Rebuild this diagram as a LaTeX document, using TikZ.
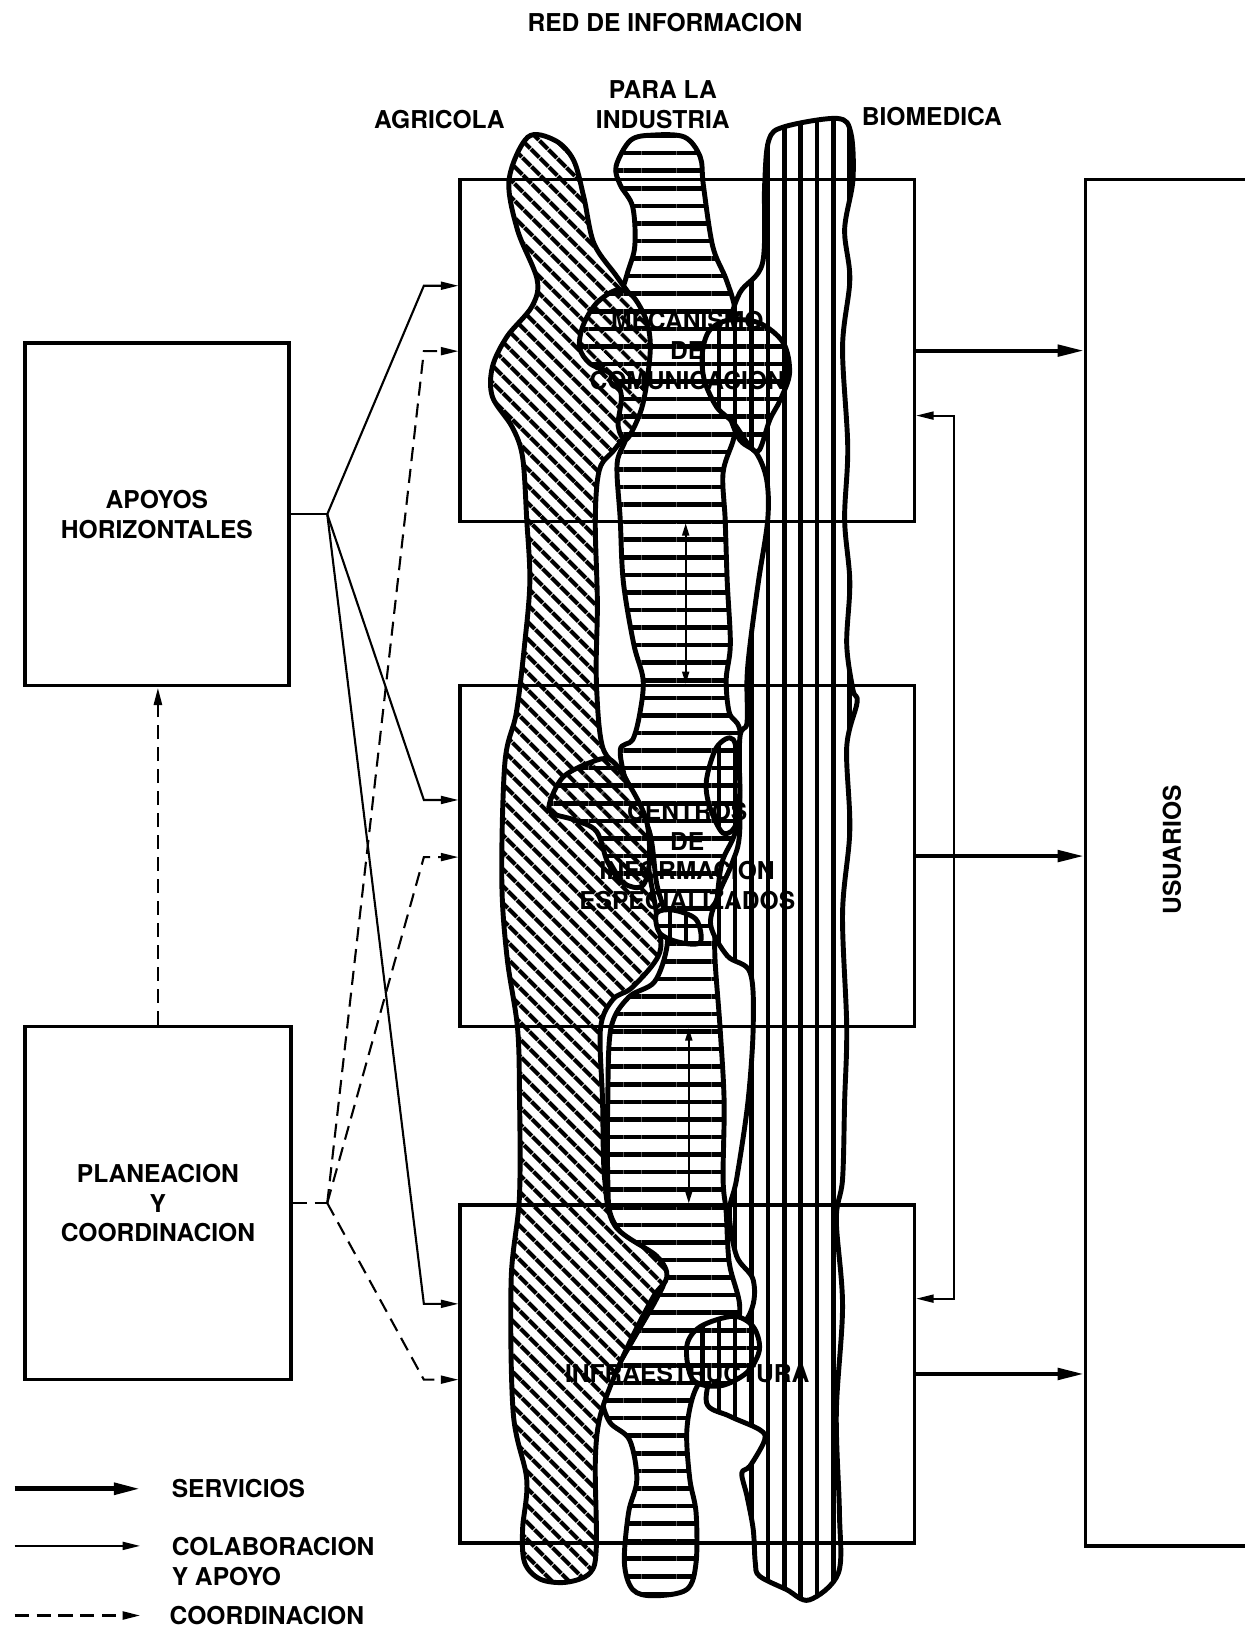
\documentclass[tikz,border=0pt]{standalone}
\usepackage{fontspec}
\setmainfont{TeX Gyre Heros}
\usetikzlibrary{arrows.meta,patterns.meta}

\begin{document}
\begin{tikzpicture}[x=0.0207846cm, y=-0.0207846cm,
    every node/.style={font=\bfseries\fontsize{14}{17}\selectfont, align=center},
    >={Triangle[length=10pt,width=4.5pt]},
    caja/.style={draw, line width=2pt, inner sep=0pt},
    serv/.style={line width=2.3pt, -{Triangle[length=15pt,width=6.5pt]}},
    colab/.style={line width=1.2pt, ->},
    coordin/.style={colab, dash pattern=on 8pt off 4.5pt},
    blob/.style={line width=2.8pt, line join=round, preaction={fill=white}},
    agri/.style={blob, pattern={Lines[angle=-45,distance=7.4pt,line width=2.6pt]}},
    indu/.style={blob, pattern={Lines[angle=0,distance=10pt,line width=2.6pt]}},
    biom/.style={blob, pattern={Lines[angle=90,distance=9.3pt,line width=2.5pt]}},
    cruzAI/.style={agri, postaction={pattern={Lines[angle=0,distance=10pt,line width=2.6pt]}}},
    cruzIB/.style={indu, postaction={pattern={Lines[angle=90,distance=9.3pt,line width=2.5pt]}}}]

  \useasboundingbox (0,0) rectangle (1198,1568);

  % red de informacion
  \draw[indu] plot[smooth cycle, tension=0.55] coordinates {
    (607,135) (629,130) (659,132) (674,151) (677,178) (686,237) (699,269) (708,300)
    (712,350) (710,400) (706,423) (696,455) (698,500) (700,560) (703,620) (699,654)
    (702,686) (712,702) (715,750) (708,800) (695,830) (690,870) (688,917) (693,988)
    (697,1060) (696,1135) (699,1167) (702,1216) (712,1257) (705,1290) (680,1320)
    (667,1344) (661,1379) (664,1424) (670,1456) (670,1504) (661,1530) (629,1536)
    (609,1530) (601,1504) (605,1456) (613,1424) (606,1386) (587,1369) (580,1345)
    (592,1320) (612,1285) (632,1250) (640,1230) (630,1210) (605,1195) (588,1170)
    (585,1135) (585,1060) (588,990) (605,960) (630,945) (642,911) (640,880) (632,850)
    (625,800) (605,760) (597,722) (609,712) (616,686) (619,654) (610,620) (600,560)
    (597,500) (594,446) (603,417) (590,380) (585,330) (603,266) (611,237) (609,199)
    (597,178) (593,160)};
  \draw[agri] plot[smooth cycle, tension=0.55] coordinates {
    (508,132) (534,135) (552,154) (562,190) (572,235) (595,268) (615,300) (622,350)
    (615,400) (592,432) (577,452) (573,500) (575,580) (574,654) (580,719) (600,745)
    (618,790) (625,840) (632,880) (635,917) (609,950) (590,962) (578,990) (580,1060)
    (582,1135) (592,1180) (632,1209) (642,1229) (629,1248) (609,1286) (590,1328)
    (577,1366) (573,1408) (574,1489) (568,1514) (545,1523) (520,1520) (505,1504)
    (503,1472) (507,1424) (494,1360) (492,1232) (500,1152) (500,1050) (498,988)
    (488,921) (483,847) (486,734) (497,686) (505,620) (510,560) (507,500) (503,440)
    (493,411) (474,382) (474,353) (488,324) (512,295) (517,269) (498,221) (490,173)};
  \draw[biom] plot[smooth cycle, tension=0.55] coordinates {
    (755,122) (806,114) (819,128) (821,173) (813,221) (818,269) (811,334) (816,430)
    (813,500) (818,560) (815,620) (821,664) (825,676) (815,719) (818,799) (811,879)
    (815,988) (813,1060) (811,1135) (805,1174) (811,1257) (805,1360) (808,1456)
    (807,1514) (779,1540) (757,1530) (731,1517) (727,1504) (725,1472) (719,1440)
    (714,1418) (722,1411) (736,1386) (731,1376) (702,1363) (680,1350) (690,1310)
    (722,1264) (725,1232) (709,1209) (702,1167) (709,1135) (720,1060) (725,988)
    (722,936) (700,920) (684,890) (692,860) (705,830) (712,800) (712,712) (719,696)
    (719,654) (722,620) (730,560) (739,500) (738,462) (728,436) (710,420) (695,370)
    (700,320) (712,282) (734,253) (736,178) (740,135)};

  % cruces
  \draw[cruzAI] plot[smooth cycle, tension=0.55] coordinates {
    (561,314) (574,292) (594,279) (609,285) (622,308) (626,334) (622,372) (616,398)
    (603,423) (595,410) (598,380) (588,360) (568,350) (558,335)};
  \draw[cruzAI] plot[smooth cycle, tension=0.55] coordinates {
    (529,773) (542,748) (568,734) (587,731) (603,751) (622,789) (625,830) (618,853)
    (600,850) (585,830) (574,800) (552,789) (532,783)};
  \draw[cruzIB] plot[smooth cycle, tension=0.55] coordinates {
    (676,340) (683,318) (702,308) (731,311) (754,330) (760,359) (751,385) (741,404)
    (731,433) (722,430) (706,407) (690,392) (678,366)};
  \draw[cruzIB] plot[smooth cycle, tension=0.55] coordinates {
    (680,751) (690,719) (706,712) (712,751) (709,792) (696,802) (683,776)};
  \draw[cruzIB] plot[smooth cycle, tension=0.55] coordinates {
    (632,879) (648,876) (670,885) (674,907) (654,907) (635,898)};
  \draw[cruzIB] plot[smooth cycle, tension=0.55] coordinates {
    (661,1296) (674,1277) (706,1267) (725,1277) (731,1299) (719,1321) (693,1334) (667,1328)};

  % titulos
  \node (red) at (640,22) {RED DE INFORMACION};
  \node (agr) at (423,115) {AGRICOLA};
  \node (ind) at (638,101) {PARA LA\\INDUSTRIA};
  \node (bio) at (897,112) {BIOMEDICA};

  % cajas
  \node[caja, minimum width=5.279cm, minimum height=6.859cm] (apoyos) at (151,495) {APOYOS\\HORIZONTALES};
  \node[caja, minimum width=5.321cm, minimum height=7.067cm] (plan) at (152,1158) {PLANEACION\\Y\\COORDINACION};
  \node[caja, minimum width=9.083cm, minimum height=6.838cm] (mec) at (661.5,337.5) {MECANISMO\\DE\\COMUNICACION};
  \node[caja, minimum width=9.083cm, minimum height=6.817cm] (cen) at (661.5,824) {CENTROS\\DE\\INFORMACION\\ESPECIALIZADOS};
  \node[caja, minimum width=9.083cm, minimum height=6.755cm] (inf) at (661.5,1322.5) {INFRAESTRUCTURA};
  \node[caja, minimum width=4.469cm, minimum height=27.33cm] (usr) at (1152.5,830.5) {};
  \node[rotate=90] (usrtxt) at (1128,818) {USUARIOS};

  % conexiones
  \coordinate (ja) at (315,495);
  \coordinate (jp) at (315,1158);
  \coordinate (ca1) at (408,275);
  \coordinate (ca2) at (408,770);
  \coordinate (ca3) at (408,1255);
  \coordinate (cp1) at (408,338);
  \coordinate (cp2) at (408,825);
  \coordinate (cp3) at (408,1328);
  \draw[line width=1.2pt] (apoyos.east) -- (ja);
  \draw[line width=1.2pt, dash pattern=on 8pt off 4.5pt] (plan.east) -- (jp);
  \foreach \c/\b in {ca1/mec, ca2/cen, ca3/inf}
    \draw[colab] (ja) -- (\c) -- (\c -| \b.west);
  \foreach \c/\b in {cp1/mec, cp2/cen, cp3/inf}
    \draw[coordin] (jp) -- (\c) -- (\c -| \b.west);
  \draw[coordin, line width=1.6pt] (plan.north) -- (plan.north |- apoyos.south);

  \foreach \b in {mec, cen, inf}
    \draw[serv] (\b.east) -- (\b.east -| usr.west);

  \coordinate (fb1) at (918,400);
  \coordinate (fb2) at (918,1250);
  \draw[colab, <->] (fb1 -| mec.east) -- (fb1) -- (fb2) -- (fb2 -| inf.east);

  \coordinate (v1) at (660,0);
  \coordinate (v2) at (663,0);
  \draw[line width=1pt, {Triangle[length=7pt,width=4pt]}-{Triangle[length=7pt,width=4pt]}]
    (mec.south -| v1) -- (cen.north -| v1);
  \draw[line width=1pt, {Triangle[length=7pt,width=4pt]}-{Triangle[length=7pt,width=4pt]}]
    (cen.south -| v2) -- (inf.north -| v2);

  % leyenda
  \node[anchor=west, inner sep=0pt] (lserv) at (165,1433) {SERVICIOS};
  \node[anchor=west, inner sep=0pt, align=left] (lcol) at (165,1503) {COLABORACION\\Y APOYO};
  \node[anchor=west, inner sep=0pt] (lcoo) at (163,1555) {COORDINACION};
  \coordinate (l1) at (14,1433);
  \coordinate (l2) at (14,1488);
  \coordinate (l3) at (14,1555);
  \draw[serv, line width=2.6pt] (l1) -- (l1 -| 135,0);
  \draw[colab] (l2) -- (l2 -| 135,0);
  \draw[coordin, line width=1.4pt] (l3) -- (l3 -| 135,0);
\end{tikzpicture}
\end{document}
